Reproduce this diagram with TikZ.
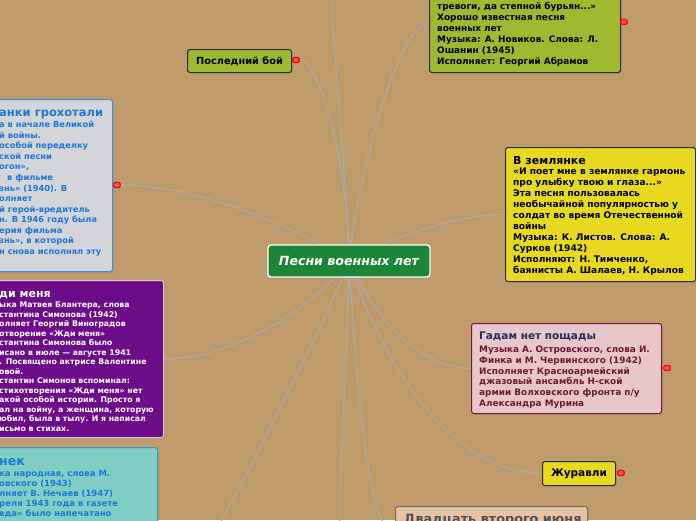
\documentclass[tikz,border=0pt]{standalone}
\usepackage{fontspec}
\setmainfont{DejaVu Sans}[BoldFont={DejaVu Sans Bold},ItalicFont={DejaVu Sans Oblique},BoldItalicFont={DejaVu Sans Bold Oblique}]
\usetikzlibrary{shadows}
\definecolor{bgtan}{HTML}{BF9B6C}
\definecolor{edgegray}{HTML}{ABABAB}
\definecolor{rootgreen}{HTML}{1C8636}
\definecolor{olivef}{HTML}{9CB92F}
\definecolor{yelf}{HTML}{E6D91F}
\definecolor{lgrayf}{HTML}{D3D5D8}
\definecolor{bblue}{HTML}{3A8EE0}
\definecolor{tblue}{HTML}{1C78D6}
\definecolor{purpf}{HTML}{6C0C88}
\definecolor{purpb}{HTML}{D8C8E0}
\definecolor{tealf}{HTML}{80CEC4}
\definecolor{pinkf}{HTML}{E8C7CB}
\definecolor{maroont}{HTML}{6E1A2C}
\definecolor{navyt}{HTML}{1E2F5E}
\definecolor{peachf}{HTML}{E6C3A4}
\definecolor{peachb}{HTML}{7D6B55}
\definecolor{darkb}{HTML}{2A2A2A}
\definecolor{grayt}{HTML}{505050}
\pgfdeclarelayer{bglayer}
\pgfdeclarelayer{edgelayer}
\pgfsetlayers{bglayer,edgelayer,main}
\newcommand\fTitle{\fontsize{11}{13}\selectfont\bfseries}
\newcommand\fBodyA{\fontsize{8.9}{11}\selectfont\bfseries}
\newcommand\fBodyY{\fontsize{9.1}{11}\selectfont\bfseries}
\newcommand\fBodyG{\fontsize{8.9}{10.9}\selectfont\bfseries}
\newcommand\fBodyT{\fontsize{8.3}{10.56}\selectfont\bfseries}
\newcommand\fBodyZ{\fontsize{7.8}{9.48}\selectfont\bfseries}
\newcommand\fBodyO{\fontsize{8.5}{10.1}\selectfont\bfseries}
\tikzset{
  box/.style={draw, rounded corners=2.5pt, line width=1pt, inner sep=0pt, anchor=north west,
    drop shadow={shadow xshift=1pt, shadow yshift=-1.2pt, opacity=0.3}},
  txt/.style={inner sep=0pt, anchor=north west, align=left},
  ttl/.style={inner sep=0pt, anchor=base west, font=\fTitle},
  conn/.style={draw=edgegray, line width=1.1pt},
  rdot/.style={rectangle, rounded corners=1.5pt, minimum width=6.5pt, minimum height=5pt, inner sep=0pt,
    fill=red!65!white, draw=red, line width=1.3pt},
}
\begin{document}
\begin{tikzpicture}[x=1pt,y=-1pt]
\useasboundingbox (0,0) rectangle (696,520);
\begin{pgfonlayer}{bglayer}
\fill[bgtan] (0,0) rectangle (696,520);
\end{pgfonlayer}

% root
\node[fill=rootgreen, draw=white, line width=1.3pt, rounded corners=3pt, minimum width=162pt, minimum height=32pt,
  inner sep=0pt, text=white, font=\fontsize{12.6}{14}\selectfont\bfseries\itshape,
  drop shadow={shadow xshift=1pt, shadow yshift=-1.2pt, opacity=0.3}] (root) at (349,261) {Песни военных лет};

% Последний бой
\node[box, fill=olivef, draw=darkb, minimum width=104pt, minimum height=23pt] (posl) at (187,49) {};
\node[inner sep=0pt, font=\fontsize{9.8}{11}\selectfont\bfseries] (poslT) at (posl.center) {Последний бой};
\node[rdot] (poslD) at (296,60) {};

% Дороги (top right)
\node[box, fill=olivef, draw=darkb, minimum width=191pt, minimum height=98pt] (dor) at (429,-26) {};
\node[txt, font=\fBodyA] (dorB) at (437,1.3) {\strut тревоги, да степной бурьян...»\\Хорошо известная песня\\военных лет\\Музыка: А. Новиков. Слова: Л.\\Ошанин (1945)\\Исполняет: Георгий Абрамов};
\node[rdot] (dorD) at (624,22) {};

% Танки грохотали
\node[box, fill=lgrayf, draw=bblue, minimum width=124pt, minimum height=172pt] (tank) at (-12,99) {};
\node[ttl, text=tblue, font=\fontsize{11.5}{13}\selectfont\bfseries] (tankT) at (-1,116) {анки грохотали};
\node[txt, font=\fBodyT, text=tblue] (tankB) at (-1,120.1) {\strut а в начале Великой\\й войны.\\особой переделку\\ской песни\\огон»,\\\hspace*{8pt}в фильме\\знь» (1940). В\\олняет\\й герой-вредитель\\н. В 1946 году была\\ерия фильма\\знь», в которой\\н снова исполнял эту};
\node[rdot] (tankD) at (117,185) {};

% Жди меня
\node[box, fill=purpf, draw=purpb, minimum width=175pt, minimum height=157pt] (zhdi) at (-12,280) {};
\node[ttl, text=white] (zhdiT) at (-1,297) {ди меня};
\node[txt, font=\fBodyZ, text=white] (zhdiB) at (-1,301.1) {\strut ыка Матвея Блантера, слова\\стантина Симонова (1942)\\олняет Георгий Виноградов\\отворение «Жди меня»\\стантина Симонова было\\исано в июле — августе 1941\\. Посвящено актрисе Валентине\\овой.\\стантин Симонов вспоминал:\\стихотворения «Жди меня» нет\\акой особой истории. Просто я\\ал на войну, а женщина, которую\\юбил, была в тылу. И я написал\\исьмо в стихах.};

% Огонёк
\node[box, fill=tealf, draw=bblue, minimum width=169pt, minimum height=90pt] (ogon) at (-12,447) {};
\node[ttl, text=tblue, font=\fontsize{12.5}{14}\selectfont\bfseries] (ogonT) at (-1,465) {нек};
\node[txt, font=\fBodyO, text=tblue] (ogonB) at (-1,469) {\strut ка народная, слова М.\\овского (1943)\\лняет В. Нечаев (1947)\\реля 1943 года в газете\\вда» было напечатано};

% В землянке
\node[box, fill=yelf, draw=darkb, minimum width=190pt, minimum height=134pt] (zeml) at (505,147) {};
\node[ttl] (zemlT) at (513,164) {В землянке};
\node[txt, font=\fBodyY] (zemlB) at (513,166.3) {\strut «И поет мне в землянке гармонь\\про улыбку твою и глаза...»\\Эта песня пользовалась\\необычайной популярностью у\\солдат во время Отечественной\\войны\\Музыка: К. Листов. Слова: А.\\Сурков (1942)\\Исполняют: Н. Тимченко,\\баянисты А. Шалаев, Н. Крылов};

% Гадам нет пощады
\node[box, fill=pinkf, draw=maroont, minimum width=190pt, minimum height=90pt] (gadam) at (471,323) {};
\node[ttl, text=navyt, font=\fontsize{10.5}{12}\selectfont\bfseries] (gadamT) at (479,339) {Гадам нет пощады};
\node[txt, font=\fBodyG, text=maroont] (gadamB) at (479,344.4) {\strut Музыка А. Островского, слова И.\\Финка и М. Червинского (1942)\\Исполняет Красноармейский\\джазовый ансамбль Н-ской\\армии Волховского фронта п/у\\Александра Мурина};
\node[rdot] (gadamD) at (667,368) {};

% Журавли
\node[box, fill=yelf, draw=darkb, minimum width=73pt, minimum height=24pt] (zhur) at (542,461) {};
\node[inner sep=0pt, font=\fontsize{10.5}{12}\selectfont\bfseries] (zhurT) at (zhur.center) {Журавли};
\node[rdot] (zhurD) at (621,473) {};

% Двадцать второго июня
\node[box, fill=peachf, draw=peachb, minimum width=192pt, minimum height=54pt] (dva) at (395,506) {};
\node[ttl, text=grayt, font=\fontsize{12.8}{15}\selectfont\bfseries] (dvaT) at (404,523) {Двадцать второго июня};

% off-canvas ends
\coordinate (offtop) at (331,-6);
\coordinate (offdl) at (205,550);
\coordinate (offd) at (339,540);

\begin{pgfonlayer}{edgelayer}
\draw[conn] (root.center) .. controls (346,170) and (334,60) .. (offtop);
\draw[conn] (root.center) .. controls (349,170) and (320,60) .. (poslD.east);
\draw[conn] (root.center) .. controls (358,175) and (398,23) .. (dor.west);
\draw[conn] (root.center) .. controls (300,230) and (200,185) .. (tankD.east);
\draw[conn] (root.center) .. controls (375,245) and (450,214) .. (zeml.west);
\draw[conn] (root.center) .. controls (320,300) and (240,359) .. (zhdi.east);
\draw[conn] (root.center) .. controls (335,300) and (262,450) .. (offdl);
\draw[conn] (root.center) .. controls (347,350) and (341,450) .. (offd);
\draw[conn] (root.center) .. controls (355,350) and (365,533) .. (dva.west);
\draw[conn] (root.center) .. controls (365,300) and (410,368) .. (gadam.west);
\draw[conn] (root.center) .. controls (380,360) and (450,473) .. (zhur.west);
\end{pgfonlayer}
\end{tikzpicture}
\end{document}
